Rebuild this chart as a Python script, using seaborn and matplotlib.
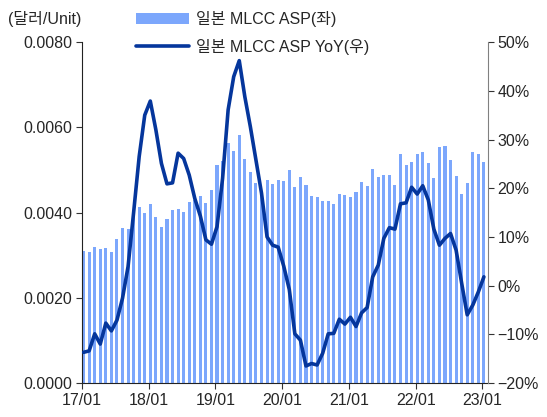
import numpy as np
import pandas as pd
import matplotlib
matplotlib.use("Agg")
import matplotlib.pyplot as plt
import seaborn as sns
from matplotlib.patches import Patch
from matplotlib.lines import Line2D
from matplotlib.ticker import FuncFormatter

# monthly data 2017/01 ~ 2023/01
months = [f"{y:02d}/{m:02d}" for y in range(17, 24) for m in range(1, 13)][:73]

asp = [3.10, 3.08, 3.19, 3.14, 3.18, 3.08, 3.37, 3.64, 3.61, 3.90, 4.12, 3.99,
       4.19, 3.90, 3.66, 3.86, 4.06, 4.08, 4.01, 4.25, 4.30, 4.39, 4.22, 4.52,
       5.12, 5.20, 5.64, 5.44, 5.82, 5.26, 4.96, 4.70, 4.47, 4.76, 4.66, 4.77,
       4.73, 5.00, 4.61, 4.84, 4.65, 4.40, 4.36, 4.28, 4.28, 4.20, 4.44, 4.41,
       4.37, 4.48, 4.71, 4.62, 5.02, 4.84, 4.88, 4.87, 4.64, 5.38, 5.12, 5.18,
       5.37, 5.42, 5.16, 4.80, 5.54, 5.56, 5.23, 4.85, 4.44, 4.69, 5.41, 5.38,
       5.18]
asp = [v / 1000 for v in asp]  # 달러/Unit

yoy = [-13.7, -13.4, -9.9, -12.0, -7.7, -9.3, -7.1, -2.6, 3.9, 15.0, 26.5, 35.0,
       37.9, 32.0, 25.1, 20.9, 21.1, 27.2, 26.1, 22.7, 17.9, 14.3, 9.4, 8.5,
       12.1, 22.0, 36.1, 42.9, 46.2, 38.8, 32.6, 25.8, 19.0, 10.0, 8.3, 7.9,
       4.0, -0.8, -9.9, -11.2, -16.5, -16.0, -16.3, -13.9, -9.9, -9.8, -6.9, -7.9,
       -6.5, -8.4, -5.6, -4.5, 1.8, 4.2, 9.7, 11.9, 11.6, 16.8, 17.0, 20.2,
       18.8, 20.5, 17.6, 11.6, 8.3, 9.7, 10.7, 7.3, 0.5, -6.0, -4.0, -1.3,
       1.8]

df = pd.DataFrame({"month": months, "asp": asp, "yoy": yoy})
bw = 0.55
df["pos"] = np.arange(len(df)) + bw / 2

bar_color = "#7ca7fc"
line_color = "#05369c"

sns.set_style("ticks")
plt.rcParams["font.family"] = ["Liberation Sans", "Noto Sans CJK KR", "DejaVu Sans"]
plt.rcParams["axes.unicode_minus"] = True

fig = plt.figure(figsize=(5.47, 4.17), dpi=100)
ax = fig.add_axes([0.150, 0.0815, 0.742, 0.8175])

sns.barplot(data=df, x="pos", y="asp", native_scale=True, width=bw,
            color=bar_color, saturation=1, linewidth=0, ax=ax)
ax.set_xlim(0, 73)
ax.set_ylim(0, 0.008)
ax.set_yticks(np.arange(0, 0.0081, 0.002))
ax.yaxis.set_major_formatter(FuncFormatter(lambda v, p: f"{v:.4f}"))
ax.set_xticks(np.arange(0, 73, 12))
ax.set_xticklabels([months[i] for i in range(0, 73, 12)])
ax.set_xlabel("")
ax.set_ylabel("")

ax2 = ax.twinx()
sns.lineplot(data=df, x="pos", y="yoy", color=line_color, linewidth=2.6, ax=ax2)
ax2.set_ylim(-20, 50)
ax2.set_yticks(np.arange(-20, 51, 10))
ax2.yaxis.set_major_formatter(FuncFormatter(lambda v, p: f"{v:.0f}%".replace("-", "\u2212")))
ax2.set_ylabel("")
ax2.set_xlim(0, 73)

for a in (ax, ax2):
    a.spines["top"].set_visible(False)
    a.tick_params(labelsize=11.5, length=4, width=0.8, color="#333333", pad=3)
ax.spines["right"].set_visible(False)
ax2.spines["right"].set_color("#808080")
ax2.spines["left"].set_visible(False)
ax2.spines["bottom"].set_visible(False)
ax.spines["left"].set_color("#222222")
ax.spines["bottom"].set_color("#222222")

fig.text(0.015, 0.955, "(달러/Unit)", fontsize=11.5, ha="left", va="center")

handles = [Patch(facecolor=bar_color, edgecolor="none"),
           Line2D([0], [0], color=line_color, linewidth=2.6)]
fig.legend(handles, ["일본 MLCC ASP(좌)", "일본 MLCC ASP YoY(우)"],
           loc="upper left", bbox_to_anchor=(0.226, 1.005), frameon=False,
           fontsize=11.5, handlelength=3.3, handleheight=0.7, labelspacing=0.75,
           handletextpad=0.45, borderpad=0.3)

fig.savefig("out.png", dpi=100)
